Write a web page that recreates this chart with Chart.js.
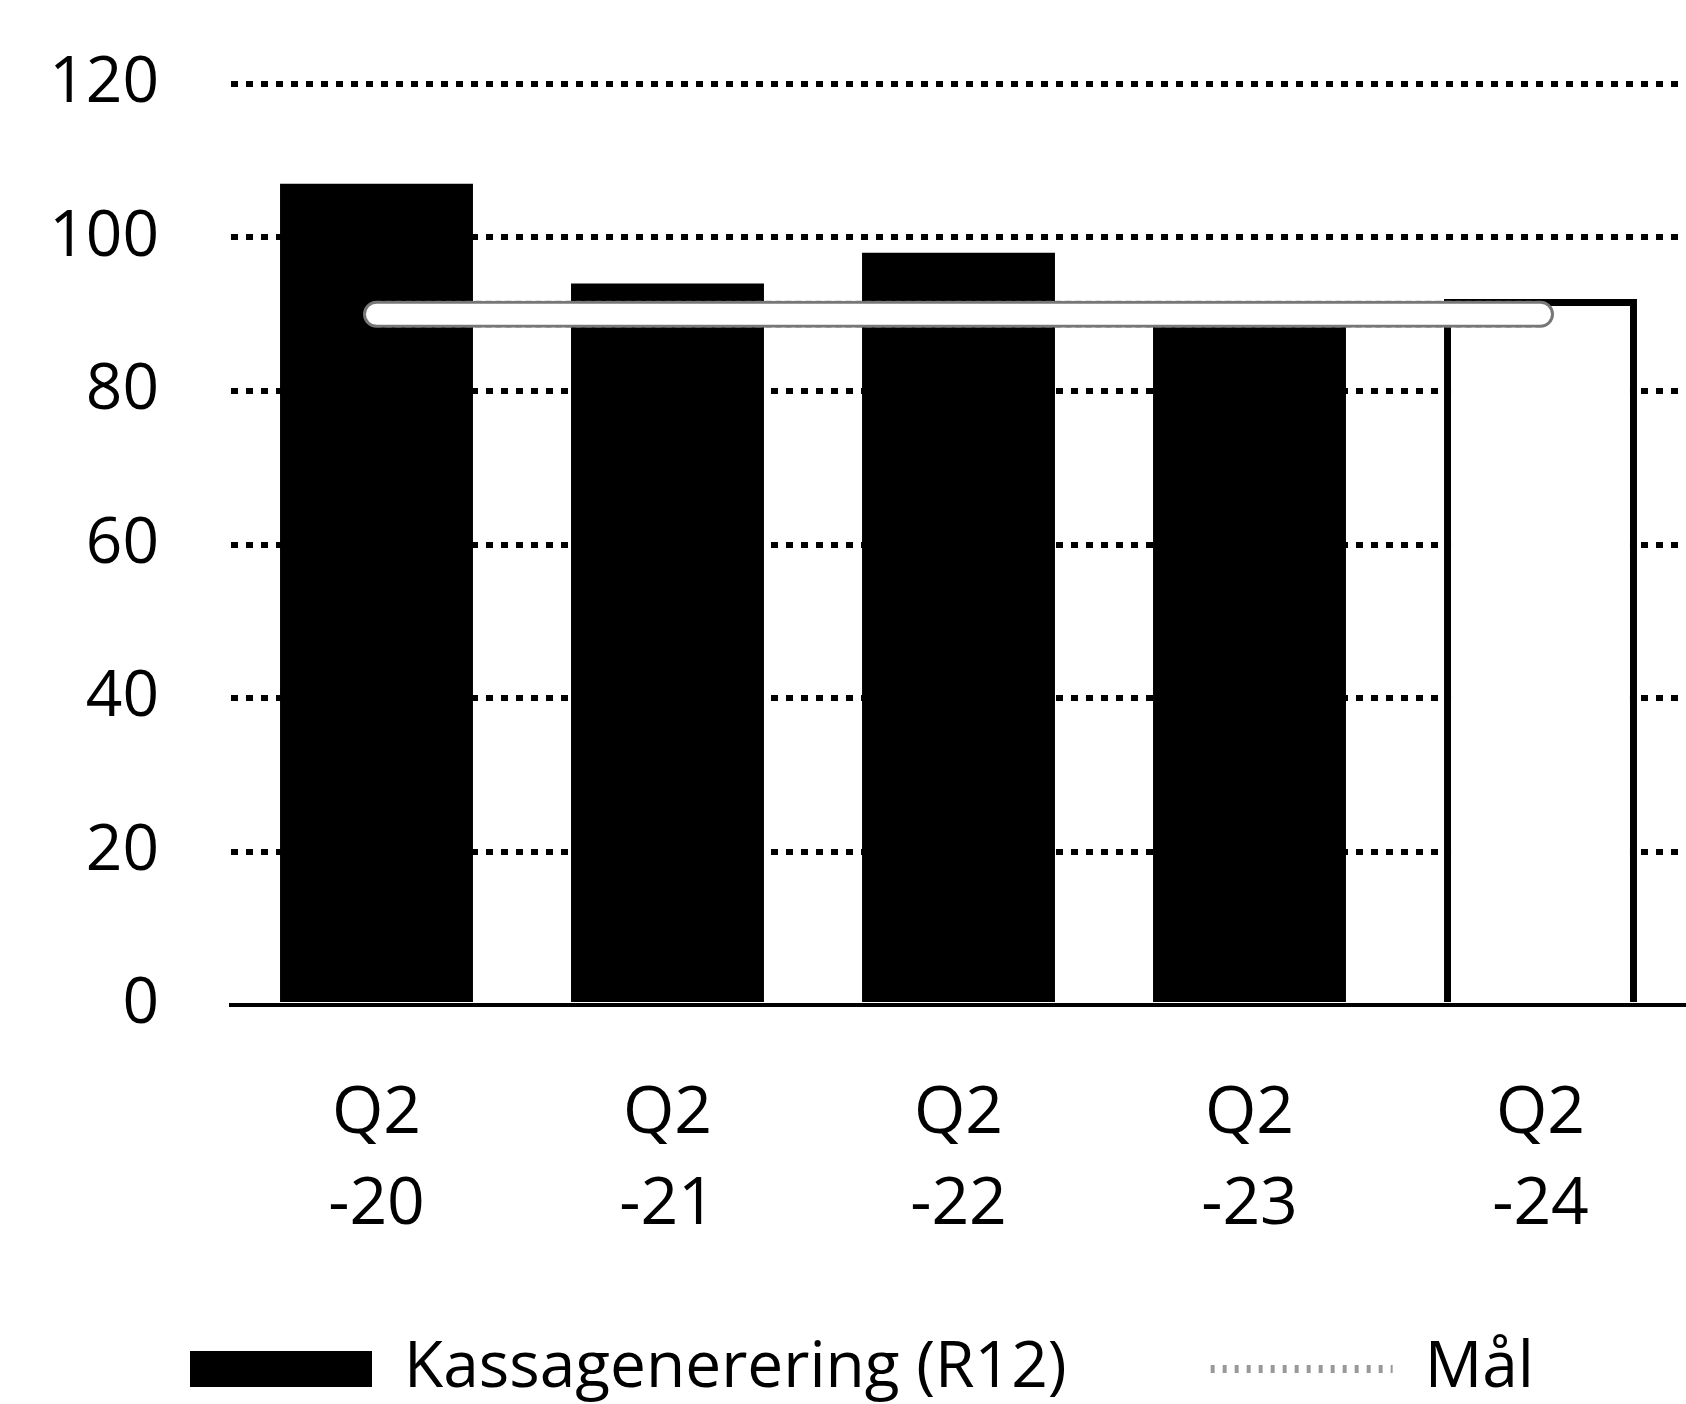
<!DOCTYPE html>
<html>
<head>
<meta charset="utf-8">
<script src="https://cdn.jsdelivr.net/npm/chart.js@4/dist/chart.umd.min.js"></script>
<style>
  html, body { margin: 0; padding: 0; background: #fff; }
  canvas { display: block; }
</style>
</head>
<body>
<canvas id="cashChart" width="1686" height="1404"></canvas>
<script>
// --- Data ---
const categories = [['Q2', '-20'], ['Q2', '-21'], ['Q2', '-22'], ['Q2', '-23'], ['Q2', '-24']];
const kassagenerering = [107, 94, 98, 89, 92];
const mal = [90, 90, 90, 90, 90];
const yTicks = [0, 20, 40, 60, 80, 100, 120];

const seriesNames = ['Kassagenerering (R12)', 'Mål'];
// last bar is the current (open) quarter
const barFill = ['#000', '#000', '#000', '#000', '#fff'];
const barBorder = [0, 0, 0, 0, 7];

const FONT = "'Open Sans', 'Noto Sans', sans-serif";

// the two-line x labels reach into the legend band, so let them draw there
const xLabelRoom = {
    id: 'xLabelRoom',
    afterLayout(chart) {
        chart.scales.x.bottom = chart.height;
    }
};

// --- Chart.js Initialization ---
document.addEventListener('DOMContentLoaded', function () {
    const ctx = document.getElementById('cashChart');

    new Chart(ctx, {
        data: {
            labels: categories,
            datasets: [
                {
                    type: 'bar',
                    label: seriesNames[0],
                    data: kassagenerering,
                    backgroundColor: barFill,
                    borderColor: '#000',
                    borderWidth: barBorder,
                    barPercentage: 0.663,
                    categoryPercentage: 1,
                    order: 2
                },
                {
                    // dashed edge of the target band
                    type: 'line',
                    label: seriesNames[1],
                    data: mal,
                    borderColor: '#777',
                    borderWidth: 27,
                    borderDash: [4, 6],
                    borderCapStyle: 'round',
                    pointRadius: 0,
                    fill: false,
                    order: 1
                },
                {
                    // white band on top
                    type: 'line',
                    label: seriesNames[1] + ' band',
                    data: mal,
                    borderColor: '#fff',
                    borderWidth: 21,
                    borderCapStyle: 'round',
                    pointRadius: 0,
                    fill: false,
                    order: 0
                }
            ]
        },
        options: {
            responsive: false,
            animation: false,
            layout: { autoPadding: false, padding: { left: 46, right: 0, top: 84, bottom: 0 } },
            scales: {
                x: {
                    grid: { display: false },
                    border: { display: true, color: '#000', width: 4 },
                    ticks: {
                        color: '#000',
                        font: { family: FONT, size: 66, lineHeight: 1.38 },
                        padding: 56,
                        maxRotation: 0,
                        autoSkip: false
                    },
                    afterFit: scale => { scale.height = 188; }
                },
                y: {
                    min: yTicks[0],
                    max: yTicks[yTicks.length - 1],
                    afterBuildTicks: scale => { scale.ticks = yTicks.map(v => ({ value: v })); },
                    grid: {
                        color: c => c.tick && c.tick.value === 0 ? 'rgba(0,0,0,0)' : '#000',
                        lineWidth: 6,
                        drawTicks: true,
                        tickLength: 72,
                        tickColor: 'rgba(0,0,0,0)'
                    },
                    border: { display: false, dash: [7, 8] },
                    ticks: {
                        color: '#000',
                        font: { family: FONT, size: 64 },
                        padding: 0
                    },
                    afterFit: scale => { scale.width = 185; }
                }
            },
            plugins: {
                tooltip: { enabled: false },
                legend: {
                    position: 'bottom',
                    align: 'start',
                    maxHeight: 211,
                    labels: {
                        color: '#000',
                        font: { family: FONT, size: 64 },
                        padding: 144,
                        usePointStyle: true,
                        pointStyleWidth: 182,
                        boxHeight: 36,
                        generateLabels: () => [
                            {
                                text: seriesNames[0],
                                fillStyle: '#000',
                                strokeStyle: '#000',
                                lineWidth: 0,
                                pointStyle: 'rect',
                                datasetIndex: 0
                            },
                            {
                                text: seriesNames[1],
                                fillStyle: 'rgba(0,0,0,0)',
                                strokeStyle: '#999',
                                lineWidth: 8,
                                lineDash: [4, 8],
                                pointStyle: 'line',
                                datasetIndex: 1
                            }
                        ]
                    }
                }
            }
        },
        plugins: [xLabelRoom]
    });
});
</script>
</body>
</html>
